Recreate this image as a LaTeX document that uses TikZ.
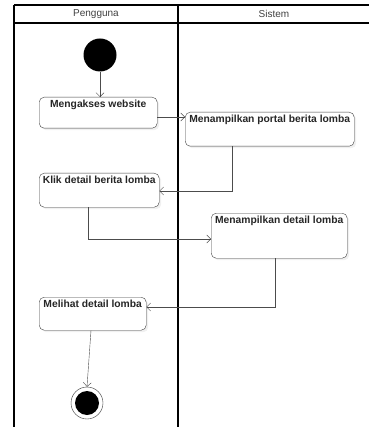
\documentclass[tikz,border=0pt]{standalone}
\usepackage{fontspec}
\setsansfont{Liberation Sans}
\usetikzlibrary{arrows.meta,shadows}

\tikzset{
  act/.style={draw=black!75, rounded corners=5pt, fill=white,
    font=\sffamily\bfseries\fontsize{10.3}{12}\selectfont, text=black!85,
    inner sep=2pt, text height=8pt, anchor=north west,
    drop shadow={shadow xshift=2pt, shadow yshift=-2pt, opacity=0.12}},
  flow/.style={draw=black!70, -{Straight Barb[length=4pt,width=8pt]}},
  lane/.style={line width=1.8pt}
}

\begin{document}
\begin{tikzpicture}[x=1pt,y=-1pt]
    \useasboundingbox (0,0) rectangle (369,430);

    % swimlanes
    \draw[line width=1.2pt] (14,5) -- (369,5);
    \draw[line width=1.2pt] (14,23) -- (369,23);
    \draw[lane] (14,5) -- (14,427);
    \draw[lane] (178,5) -- (178,427);
    \node[font=\sffamily\fontsize{10}{12}\selectfont, text=black!75] (lane1) at (96,14) {Pengguna};
    \node[font=\sffamily\fontsize{10}{12}\selectfont, text=black!75] (lane2) at (274,14) {Sistem};

    % start and end
    \node[circle, fill=black, minimum size=33pt, inner sep=0pt] (start) at (100,55) {};
    \node[circle, draw=black!80, fill=white, minimum size=32pt, inner sep=0pt] (stop) at (87,403) {};
    \node[circle, fill=black, minimum size=24pt, inner sep=0pt] at (stop) {};

    % activities
    \node[act, minimum width=118pt, text depth=19pt] (akses) at (39,97) {Mengakses website};
    \node[act, minimum width=169pt, text depth=22pt] (portal) at (185,112) {Menampilkan portal berita lomba};
    \node[act, minimum width=120pt, text depth=22pt] (klik) at (39,173) {Klik detail berita lomba};
    \node[act, minimum width=136pt, text depth=33pt] (detail) at (211,213) {Menampilkan detail lomba};
    \node[act, minimum width=107pt, text depth=21pt] (lihat) at (39,297) {Melihat detail lomba};

    % flows
    \draw[flow] (start) -- (akses.north -| start);
    \draw[flow] (akses.east |- 0,117) -- (portal.west |- 0,117);
    \draw[flow] (portal.south -| 232,0) |- (klik.east |- 0,191);
    \draw[flow] (klik.south -| 88,0) |- (detail.west |- 0,239);
    \draw[flow] (detail.south -| 275,0) |- (lihat.east |- 0,307);
    \draw[flow] (lihat.south -| 91,0) -- (stop.north);
\end{tikzpicture}
\end{document}
